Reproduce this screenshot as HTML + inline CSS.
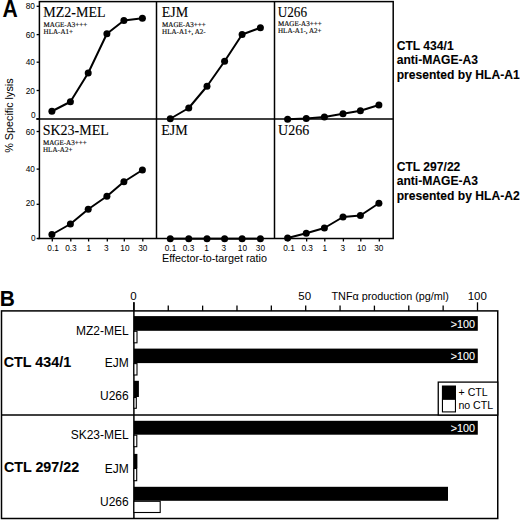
<!DOCTYPE html>
<html><head><meta charset="utf-8"><style>
html,body{margin:0;padding:0;background:#fff;width:520px;height:520px;overflow:hidden}
svg{display:block}
</style></head><body>
<svg width="520" height="520" viewBox="0 0 520 520">
<rect width="520" height="520" fill="#fff"/>
<g transform="translate(2.6,17.0) scale(0.94,1.04)"><text x="0" y="0" font-family='"Liberation Sans", sans-serif' font-size="22.5" font-weight="bold">A</text></g>
<rect x="39.4" y="1.6" width="353.8" height="236.9" fill="none" stroke="#000" stroke-width="1.5"/>
<line x1="36.3" y1="118.9" x2="393.2" y2="118.9" stroke="#000" stroke-width="1.5"/>
<line x1="37.6" y1="238.5" x2="39.4" y2="238.5" stroke="#000" stroke-width="1.5"/>
<line x1="156.5" y1="1.6" x2="156.5" y2="238.5" stroke="#000" stroke-width="1.5"/>
<line x1="274.5" y1="1.6" x2="274.5" y2="238.5" stroke="#000" stroke-width="1.5"/>
<line x1="36.6" y1="6.3" x2="39.4" y2="6.3" stroke="#000" stroke-width="1.3"/>
<g transform="translate(34.90,8.50) scale(1,1.12)"><text x="0" y="0" font-family='"Liberation Sans", sans-serif' font-size="8.3" text-anchor="end">80</text></g>
<line x1="36.6" y1="34.6" x2="39.4" y2="34.6" stroke="#000" stroke-width="1.3"/>
<g transform="translate(34.90,37.80) scale(1,1.12)"><text x="0" y="0" font-family='"Liberation Sans", sans-serif' font-size="8.3" text-anchor="end">60</text></g>
<line x1="36.6" y1="62.2" x2="39.4" y2="62.2" stroke="#000" stroke-width="1.3"/>
<g transform="translate(34.90,65.20) scale(1,1.12)"><text x="0" y="0" font-family='"Liberation Sans", sans-serif' font-size="8.3" text-anchor="end">40</text></g>
<line x1="36.6" y1="90.5" x2="39.4" y2="90.5" stroke="#000" stroke-width="1.3"/>
<g transform="translate(34.90,93.60) scale(1,1.12)"><text x="0" y="0" font-family='"Liberation Sans", sans-serif' font-size="8.3" text-anchor="end">20</text></g>
<line x1="36.6" y1="118.9" x2="39.4" y2="118.9" stroke="#000" stroke-width="1.3"/>
<g transform="translate(35.60,117.90) scale(1,1.12)"><text x="0" y="0" font-family='"Liberation Sans", sans-serif' font-size="8.3" text-anchor="end">0</text></g>
<line x1="36.6" y1="131.5" x2="39.4" y2="131.5" stroke="#000" stroke-width="1.3"/>
<g transform="translate(34.90,134.60) scale(1,1.12)"><text x="0" y="0" font-family='"Liberation Sans", sans-serif' font-size="8.3" text-anchor="end">60</text></g>
<line x1="36.6" y1="169.1" x2="39.4" y2="169.1" stroke="#000" stroke-width="1.3"/>
<g transform="translate(34.90,171.80) scale(1,1.12)"><text x="0" y="0" font-family='"Liberation Sans", sans-serif' font-size="8.3" text-anchor="end">40</text></g>
<line x1="36.6" y1="204.3" x2="39.4" y2="204.3" stroke="#000" stroke-width="1.3"/>
<g transform="translate(34.90,205.70) scale(1,1.12)"><text x="0" y="0" font-family='"Liberation Sans", sans-serif' font-size="8.3" text-anchor="end">20</text></g>
<line x1="36.6" y1="238.5" x2="39.4" y2="238.5" stroke="#000" stroke-width="1.3"/>
<g transform="translate(35.60,240.80) scale(1,1.12)"><text x="0" y="0" font-family='"Liberation Sans", sans-serif' font-size="8.3" text-anchor="end">0</text></g>
<line x1="52.3" y1="238.5" x2="52.3" y2="241.5" stroke="#000" stroke-width="1.3"/>
<g transform="translate(53.10,250.60) scale(1,1.12)"><text x="0" y="0" font-family='"Liberation Sans", sans-serif' font-size="8.3" text-anchor="middle">0.1</text></g>
<line x1="70.80000000000001" y1="238.5" x2="70.80000000000001" y2="241.5" stroke="#000" stroke-width="1.3"/>
<g transform="translate(70.90,250.60) scale(1,1.12)"><text x="0" y="0" font-family='"Liberation Sans", sans-serif' font-size="8.3" text-anchor="middle">0.3</text></g>
<line x1="88.60000000000001" y1="238.5" x2="88.60000000000001" y2="241.5" stroke="#000" stroke-width="1.3"/>
<g transform="translate(88.90,250.60) scale(1,1.12)"><text x="0" y="0" font-family='"Liberation Sans", sans-serif' font-size="8.3" text-anchor="middle">1</text></g>
<line x1="107.30000000000001" y1="238.5" x2="107.30000000000001" y2="241.5" stroke="#000" stroke-width="1.3"/>
<g transform="translate(106.30,250.60) scale(1,1.12)"><text x="0" y="0" font-family='"Liberation Sans", sans-serif' font-size="8.3" text-anchor="middle">3</text></g>
<line x1="124.30000000000001" y1="238.5" x2="124.30000000000001" y2="241.5" stroke="#000" stroke-width="1.3"/>
<g transform="translate(124.90,250.60) scale(1,1.12)"><text x="0" y="0" font-family='"Liberation Sans", sans-serif' font-size="8.3" text-anchor="middle">10</text></g>
<line x1="142.8" y1="238.5" x2="142.8" y2="241.5" stroke="#000" stroke-width="1.3"/>
<g transform="translate(142.80,250.60) scale(1,1.12)"><text x="0" y="0" font-family='"Liberation Sans", sans-serif' font-size="8.3" text-anchor="middle">30</text></g>
<line x1="170.65" y1="238.5" x2="170.65" y2="241.5" stroke="#000" stroke-width="1.3"/>
<g transform="translate(170.50,250.60) scale(1,1.12)"><text x="0" y="0" font-family='"Liberation Sans", sans-serif' font-size="8.3" text-anchor="middle">0.1</text></g>
<line x1="189.15" y1="238.5" x2="189.15" y2="241.5" stroke="#000" stroke-width="1.3"/>
<g transform="translate(188.50,250.60) scale(1,1.12)"><text x="0" y="0" font-family='"Liberation Sans", sans-serif' font-size="8.3" text-anchor="middle">0.3</text></g>
<line x1="207.4" y1="238.5" x2="207.4" y2="241.5" stroke="#000" stroke-width="1.3"/>
<g transform="translate(206.50,250.60) scale(1,1.12)"><text x="0" y="0" font-family='"Liberation Sans", sans-serif' font-size="8.3" text-anchor="middle">1</text></g>
<line x1="225.0" y1="238.5" x2="225.0" y2="241.5" stroke="#000" stroke-width="1.3"/>
<g transform="translate(223.90,250.60) scale(1,1.12)"><text x="0" y="0" font-family='"Liberation Sans", sans-serif' font-size="8.3" text-anchor="middle">3</text></g>
<line x1="242.5" y1="238.5" x2="242.5" y2="241.5" stroke="#000" stroke-width="1.3"/>
<g transform="translate(242.40,250.60) scale(1,1.12)"><text x="0" y="0" font-family='"Liberation Sans", sans-serif' font-size="8.3" text-anchor="middle">10</text></g>
<line x1="260.79999999999995" y1="238.5" x2="260.79999999999995" y2="241.5" stroke="#000" stroke-width="1.3"/>
<g transform="translate(260.40,250.60) scale(1,1.12)"><text x="0" y="0" font-family='"Liberation Sans", sans-serif' font-size="8.3" text-anchor="middle">30</text></g>
<line x1="288.0" y1="238.5" x2="288.0" y2="241.5" stroke="#000" stroke-width="1.3"/>
<g transform="translate(289.00,250.60) scale(1,1.12)"><text x="0" y="0" font-family='"Liberation Sans", sans-serif' font-size="8.3" text-anchor="middle">0.1</text></g>
<line x1="306.65" y1="238.5" x2="306.65" y2="241.5" stroke="#000" stroke-width="1.3"/>
<g transform="translate(307.20,250.60) scale(1,1.12)"><text x="0" y="0" font-family='"Liberation Sans", sans-serif' font-size="8.3" text-anchor="middle">0.3</text></g>
<line x1="324.79999999999995" y1="238.5" x2="324.79999999999995" y2="241.5" stroke="#000" stroke-width="1.3"/>
<g transform="translate(324.75,250.60) scale(1,1.12)"><text x="0" y="0" font-family='"Liberation Sans", sans-serif' font-size="8.3" text-anchor="middle">1</text></g>
<line x1="343.4" y1="238.5" x2="343.4" y2="241.5" stroke="#000" stroke-width="1.3"/>
<g transform="translate(342.75,250.60) scale(1,1.12)"><text x="0" y="0" font-family='"Liberation Sans", sans-serif' font-size="8.3" text-anchor="middle">3</text></g>
<line x1="360.79999999999995" y1="238.5" x2="360.79999999999995" y2="241.5" stroke="#000" stroke-width="1.3"/>
<g transform="translate(361.50,250.60) scale(1,1.12)"><text x="0" y="0" font-family='"Liberation Sans", sans-serif' font-size="8.3" text-anchor="middle">10</text></g>
<line x1="379.29999999999995" y1="238.5" x2="379.29999999999995" y2="241.5" stroke="#000" stroke-width="1.3"/>
<g transform="translate(378.85,250.60) scale(1,1.12)"><text x="0" y="0" font-family='"Liberation Sans", sans-serif' font-size="8.3" text-anchor="middle">30</text></g>
<text x="162.0" y="262.0" font-family='"Liberation Sans", sans-serif' font-size="10.3" font-weight="normal" text-anchor="start" fill="#000" textLength="105.0" lengthAdjust="spacingAndGlyphs" >Effector-to-target ratio</text>
<text transform="translate(13.4,115.6) rotate(-90)" font-family='"Liberation Sans", sans-serif' font-size="10.8" text-anchor="middle" >% Specific lysis</text>
<polyline points="51.90,111.25 70.40,101.75 88.20,73.00 106.90,33.75 123.90,20.50 142.40,18.25" fill="none" stroke="#000" stroke-width="2" stroke-linejoin="round"/>
<circle cx="51.90" cy="111.25" r="3.5" fill="#000"/>
<circle cx="70.40" cy="101.75" r="3.5" fill="#000"/>
<circle cx="88.20" cy="73.00" r="3.5" fill="#000"/>
<circle cx="106.90" cy="33.75" r="3.5" fill="#000"/>
<circle cx="123.90" cy="20.50" r="3.5" fill="#000"/>
<circle cx="142.40" cy="18.25" r="3.5" fill="#000"/>
<polyline points="170.25,118.75 188.75,108.00 207.00,86.25 224.60,61.25 242.10,34.50 260.40,27.75" fill="none" stroke="#000" stroke-width="2" stroke-linejoin="round"/>
<circle cx="170.25" cy="118.75" r="3.5" fill="#000"/>
<circle cx="188.75" cy="108.00" r="3.5" fill="#000"/>
<circle cx="207.00" cy="86.25" r="3.5" fill="#000"/>
<circle cx="224.60" cy="61.25" r="3.5" fill="#000"/>
<circle cx="242.10" cy="34.50" r="3.5" fill="#000"/>
<circle cx="260.40" cy="27.75" r="3.5" fill="#000"/>
<polyline points="287.60,119.25 306.25,118.50 324.40,117.00 343.00,113.75 360.40,110.75 378.90,105.00" fill="none" stroke="#000" stroke-width="2" stroke-linejoin="round"/>
<circle cx="287.60" cy="119.25" r="3.5" fill="#000"/>
<circle cx="306.25" cy="118.50" r="3.5" fill="#000"/>
<circle cx="324.40" cy="117.00" r="3.5" fill="#000"/>
<circle cx="343.00" cy="113.75" r="3.5" fill="#000"/>
<circle cx="360.40" cy="110.75" r="3.5" fill="#000"/>
<circle cx="378.90" cy="105.00" r="3.5" fill="#000"/>
<polyline points="51.90,234.50 70.40,224.00 88.20,209.25 106.90,196.25 123.90,181.75 142.40,170.00" fill="none" stroke="#000" stroke-width="2" stroke-linejoin="round"/>
<circle cx="51.90" cy="234.50" r="3.5" fill="#000"/>
<circle cx="70.40" cy="224.00" r="3.5" fill="#000"/>
<circle cx="88.20" cy="209.25" r="3.5" fill="#000"/>
<circle cx="106.90" cy="196.25" r="3.5" fill="#000"/>
<circle cx="123.90" cy="181.75" r="3.5" fill="#000"/>
<circle cx="142.40" cy="170.00" r="3.5" fill="#000"/>
<polyline points="170.25,238.75 188.75,238.75 207.00,238.75 224.60,238.75 242.10,238.75 260.40,238.75" fill="none" stroke="#000" stroke-width="2" stroke-linejoin="round"/>
<circle cx="170.25" cy="238.75" r="3.5" fill="#000"/>
<circle cx="188.75" cy="238.75" r="3.5" fill="#000"/>
<circle cx="207.00" cy="238.75" r="3.5" fill="#000"/>
<circle cx="224.60" cy="238.75" r="3.5" fill="#000"/>
<circle cx="242.10" cy="238.75" r="3.5" fill="#000"/>
<circle cx="260.40" cy="238.75" r="3.5" fill="#000"/>
<polyline points="287.60,238.00 306.25,233.25 324.40,228.00 343.00,217.00 360.40,215.50 378.90,203.25" fill="none" stroke="#000" stroke-width="2" stroke-linejoin="round"/>
<circle cx="287.60" cy="238.00" r="3.5" fill="#000"/>
<circle cx="306.25" cy="233.25" r="3.5" fill="#000"/>
<circle cx="324.40" cy="228.00" r="3.5" fill="#000"/>
<circle cx="343.00" cy="217.00" r="3.5" fill="#000"/>
<circle cx="360.40" cy="215.50" r="3.5" fill="#000"/>
<circle cx="378.90" cy="203.25" r="3.5" fill="#000"/>
<text x="43.3" y="16.8" font-family='"Liberation Serif", serif' font-size="14" font-weight="normal" text-anchor="start" fill="#000" stroke="#000" stroke-width="0.1" >MZ2-MEL</text>
<g transform="translate(43.60,26.80) scale(0.965,1)"><text x="0" y="0" font-family='"Liberation Serif", serif' font-size="7.3" text-rendering="geometricPrecision" stroke="#000" stroke-width="0.15">MAGE-A3+++</text></g>
<g transform="translate(43.60,33.90) scale(0.965,1)"><text x="0" y="0" font-family='"Liberation Serif", serif' font-size="7.3" text-rendering="geometricPrecision" stroke="#000" stroke-width="0.15">HLA-A1+</text></g>
<text x="161.8" y="16.5" font-family='"Liberation Serif", serif' font-size="14" font-weight="normal" text-anchor="start" fill="#000" stroke="#000" stroke-width="0.1" >EJM</text>
<g transform="translate(162.10,26.50) scale(0.965,1)"><text x="0" y="0" font-family='"Liberation Serif", serif' font-size="7.3" text-rendering="geometricPrecision" stroke="#000" stroke-width="0.15">MAGE-A3+++</text></g>
<g transform="translate(162.10,33.60) scale(0.965,1)"><text x="0" y="0" font-family='"Liberation Serif", serif' font-size="7.3" text-rendering="geometricPrecision" stroke="#000" stroke-width="0.15">HLA-A1+, A2-</text></g>
<text x="277.7" y="16.7" font-family='"Liberation Serif", serif' font-size="14" font-weight="normal" text-anchor="start" fill="#000" textLength="29.3" lengthAdjust="spacingAndGlyphs" stroke="#000" stroke-width="0.1" >U266</text>
<g transform="translate(278.00,26.30) scale(0.965,1)"><text x="0" y="0" font-family='"Liberation Serif", serif' font-size="7.3" text-rendering="geometricPrecision" stroke="#000" stroke-width="0.15">MAGE-A3+++</text></g>
<g transform="translate(278.00,33.40) scale(0.965,1)"><text x="0" y="0" font-family='"Liberation Serif", serif' font-size="7.3" text-rendering="geometricPrecision" stroke="#000" stroke-width="0.15">HLA-A1-, A2+</text></g>
<text x="42.7" y="134.5" font-family='"Liberation Serif", serif' font-size="14" font-weight="normal" text-anchor="start" fill="#000" stroke="#000" stroke-width="0.1" >SK23-MEL</text>
<g transform="translate(43.00,145.00) scale(0.965,1)"><text x="0" y="0" font-family='"Liberation Serif", serif' font-size="7.3" text-rendering="geometricPrecision" stroke="#000" stroke-width="0.15">MAGE-A3+++</text></g>
<g transform="translate(43.00,152.10) scale(0.965,1)"><text x="0" y="0" font-family='"Liberation Serif", serif' font-size="7.3" text-rendering="geometricPrecision" stroke="#000" stroke-width="0.15">HLA-A2+</text></g>
<text x="161.2" y="134.6" font-family='"Liberation Serif", serif' font-size="14" font-weight="normal" text-anchor="start" fill="#000" stroke="#000" stroke-width="0.1" >EJM</text>
<text x="278.1" y="134.6" font-family='"Liberation Serif", serif' font-size="14" font-weight="normal" text-anchor="start" fill="#000" stroke="#000" stroke-width="0.1" >U266</text>
<text x="396.7" y="49.8" font-family='"Liberation Sans", sans-serif' font-size="12.1" font-weight="bold" text-anchor="start" fill="#000" stroke="#000" stroke-width="0.1" >CTL 434/1</text>
<text x="396.7" y="64.14999999999999" font-family='"Liberation Sans", sans-serif' font-size="12.1" font-weight="bold" text-anchor="start" fill="#000" stroke="#000" stroke-width="0.1" >anti-MAGE-A3</text>
<text x="396.7" y="78.5" font-family='"Liberation Sans", sans-serif' font-size="12.1" font-weight="bold" text-anchor="start" fill="#000" stroke="#000" stroke-width="0.1" >presented by HLA-A1</text>
<text x="396.7" y="171.1" font-family='"Liberation Sans", sans-serif' font-size="12.1" font-weight="bold" text-anchor="start" fill="#000" stroke="#000" stroke-width="0.1" >CTL 297/22</text>
<text x="396.7" y="185.45" font-family='"Liberation Sans", sans-serif' font-size="12.1" font-weight="bold" text-anchor="start" fill="#000" stroke="#000" stroke-width="0.1" >anti-MAGE-A3</text>
<text x="396.7" y="199.79999999999998" font-family='"Liberation Sans", sans-serif' font-size="12.1" font-weight="bold" text-anchor="start" fill="#000" stroke="#000" stroke-width="0.1" >presented by HLA-A2</text>
<g transform="translate(-0.2,305.8) scale(0.93,1.0)"><text x="0" y="0" font-family='"Liberation Sans", sans-serif' font-size="22.5" font-weight="bold">B</text></g>
<rect x="1.5" y="310.9" width="496.25" height="207.60000000000002" fill="none" stroke="#000" stroke-width="1.5"/>
<line x1="1.5" y1="415.0" x2="497.75" y2="415.0" stroke="#000" stroke-width="1.5"/>
<line x1="133.9" y1="302.3" x2="133.9" y2="518.5" stroke="#000" stroke-width="1.5"/>
<line x1="133.9" y1="302.3" x2="133.9" y2="310.9" stroke="#000" stroke-width="1.3"/>
<line x1="168.26000000000002" y1="305.6" x2="168.26000000000002" y2="310.9" stroke="#000" stroke-width="1.3"/>
<line x1="202.62" y1="305.6" x2="202.62" y2="310.9" stroke="#000" stroke-width="1.3"/>
<line x1="236.98000000000002" y1="305.6" x2="236.98000000000002" y2="310.9" stroke="#000" stroke-width="1.3"/>
<line x1="271.34000000000003" y1="305.6" x2="271.34000000000003" y2="310.9" stroke="#000" stroke-width="1.3"/>
<line x1="305.70000000000005" y1="305.6" x2="305.70000000000005" y2="310.9" stroke="#000" stroke-width="1.3"/>
<line x1="340.06000000000006" y1="305.6" x2="340.06000000000006" y2="310.9" stroke="#000" stroke-width="1.3"/>
<line x1="374.4200000000001" y1="305.6" x2="374.4200000000001" y2="310.9" stroke="#000" stroke-width="1.3"/>
<line x1="408.7800000000001" y1="305.6" x2="408.7800000000001" y2="310.9" stroke="#000" stroke-width="1.3"/>
<line x1="443.14" y1="305.6" x2="443.14" y2="310.9" stroke="#000" stroke-width="1.3"/>
<line x1="477.5" y1="302.3" x2="477.5" y2="310.9" stroke="#000" stroke-width="1.3"/>
<text x="133.4" y="299.9" font-family='"Liberation Sans", sans-serif' font-size="11.5" font-weight="normal" text-anchor="middle" fill="#000" >0</text>
<text x="304.70000000000005" y="299.9" font-family='"Liberation Sans", sans-serif' font-size="11.5" font-weight="normal" text-anchor="middle" fill="#000" >50</text>
<text x="477.3" y="299.9" font-family='"Liberation Sans", sans-serif' font-size="11.5" font-weight="normal" text-anchor="middle" fill="#000" >100</text>
<text x="331.5" y="300.0" font-family='"Liberation Sans", sans-serif' font-size="10.8" font-weight="normal" text-anchor="start" fill="#000" >TNF&#945; production (pg/ml)</text>
<rect x="133.9" y="316.1" width="343.9" height="14.699999999999989" fill="#000" stroke="none" stroke-width="0"/>
<rect x="133.9" y="331.3" width="3.0999999999999943" height="11.5" fill="#fff" stroke="#000" stroke-width="1.1"/>
<text x="128.7" y="334.7" font-family='"Liberation Sans", sans-serif' font-size="12" font-weight="normal" text-anchor="end" fill="#000" >MZ2-MEL</text>
<text x="475.0" y="327.5" font-family='"Liberation Sans", sans-serif' font-size="10.8" font-weight="normal" text-anchor="end" fill="#fff" stroke="#fff" stroke-width="0.1" >&gt;100</text>
<rect x="133.9" y="348.6" width="343.9" height="14.5" fill="#000" stroke="none" stroke-width="0"/>
<rect x="133.9" y="363.6" width="3.0999999999999943" height="11.399999999999977" fill="#fff" stroke="#000" stroke-width="1.1"/>
<text x="128.7" y="366.9" font-family='"Liberation Sans", sans-serif' font-size="12" font-weight="normal" text-anchor="end" fill="#000" >EJM</text>
<text x="475.0" y="360.0" font-family='"Liberation Sans", sans-serif' font-size="10.8" font-weight="normal" text-anchor="end" fill="#fff" stroke="#fff" stroke-width="0.1" >&gt;100</text>
<rect x="133.9" y="380.8" width="5.0" height="16.19999999999999" fill="#000" stroke="none" stroke-width="0"/>
<rect x="133.9" y="397.5" width="2.4000000000000057" height="10.800000000000011" fill="#fff" stroke="#000" stroke-width="1.1"/>
<text x="128.7" y="400.3" font-family='"Liberation Sans", sans-serif' font-size="12" font-weight="normal" text-anchor="end" fill="#000" >U266</text>
<rect x="133.9" y="420.8" width="343.9" height="13.899999999999977" fill="#000" stroke="none" stroke-width="0"/>
<rect x="133.9" y="435.2" width="2.9000000000000057" height="11.5" fill="#fff" stroke="#000" stroke-width="1.1"/>
<text x="128.7" y="438.7" font-family='"Liberation Sans", sans-serif' font-size="12" font-weight="normal" text-anchor="end" fill="#000" >SK23-MEL</text>
<text x="475.0" y="432.2" font-family='"Liberation Sans", sans-serif' font-size="10.8" font-weight="normal" text-anchor="end" fill="#fff" stroke="#fff" stroke-width="0.1" >&gt;100</text>
<rect x="133.9" y="453.9" width="3.5" height="14.100000000000023" fill="#000" stroke="none" stroke-width="0"/>
<rect x="133.9" y="468.5" width="2.799999999999983" height="12.199999999999989" fill="#fff" stroke="#000" stroke-width="1.1"/>
<text x="128.7" y="472.8" font-family='"Liberation Sans", sans-serif' font-size="12" font-weight="normal" text-anchor="end" fill="#000" >EJM</text>
<rect x="133.9" y="486.8" width="314.1" height="14.0" fill="#000" stroke="none" stroke-width="0"/>
<rect x="133.9" y="501.3" width="26.299999999999983" height="11.199999999999989" fill="#fff" stroke="#000" stroke-width="1.1"/>
<text x="128.7" y="505.9" font-family='"Liberation Sans", sans-serif' font-size="12" font-weight="normal" text-anchor="end" fill="#000" >U266</text>
<text x="3.8" y="367.2" font-family='"Liberation Sans", sans-serif' font-size="14.3" font-weight="bold" text-anchor="start" fill="#000" stroke="#000" stroke-width="0.1" >CTL 434/1</text>
<text x="3.9" y="471.8" font-family='"Liberation Sans", sans-serif' font-size="14.3" font-weight="bold" text-anchor="start" fill="#000" stroke="#000" stroke-width="0.1" >CTL 297/22</text>
<rect x="438.25" y="382.1" width="59.5" height="32.89999999999998" fill="#fff" stroke="#000" stroke-width="1.3"/>
<rect x="441.9" y="385.5" width="14.1" height="13.8" fill="#000" stroke="none" stroke-width="0"/>
<rect x="442.45" y="399.3" width="13.0" height="12.6" fill="#fff" stroke="#000" stroke-width="1.1"/>
<text x="458.6" y="395.6" font-family='"Liberation Sans", sans-serif' font-size="10.6" font-weight="normal" text-anchor="start" fill="#000" >+ CTL</text>
<text x="458.4" y="409.0" font-family='"Liberation Sans", sans-serif' font-size="10.6" font-weight="normal" text-anchor="start" fill="#000" >no CTL</text>
</svg>
</body></html>
